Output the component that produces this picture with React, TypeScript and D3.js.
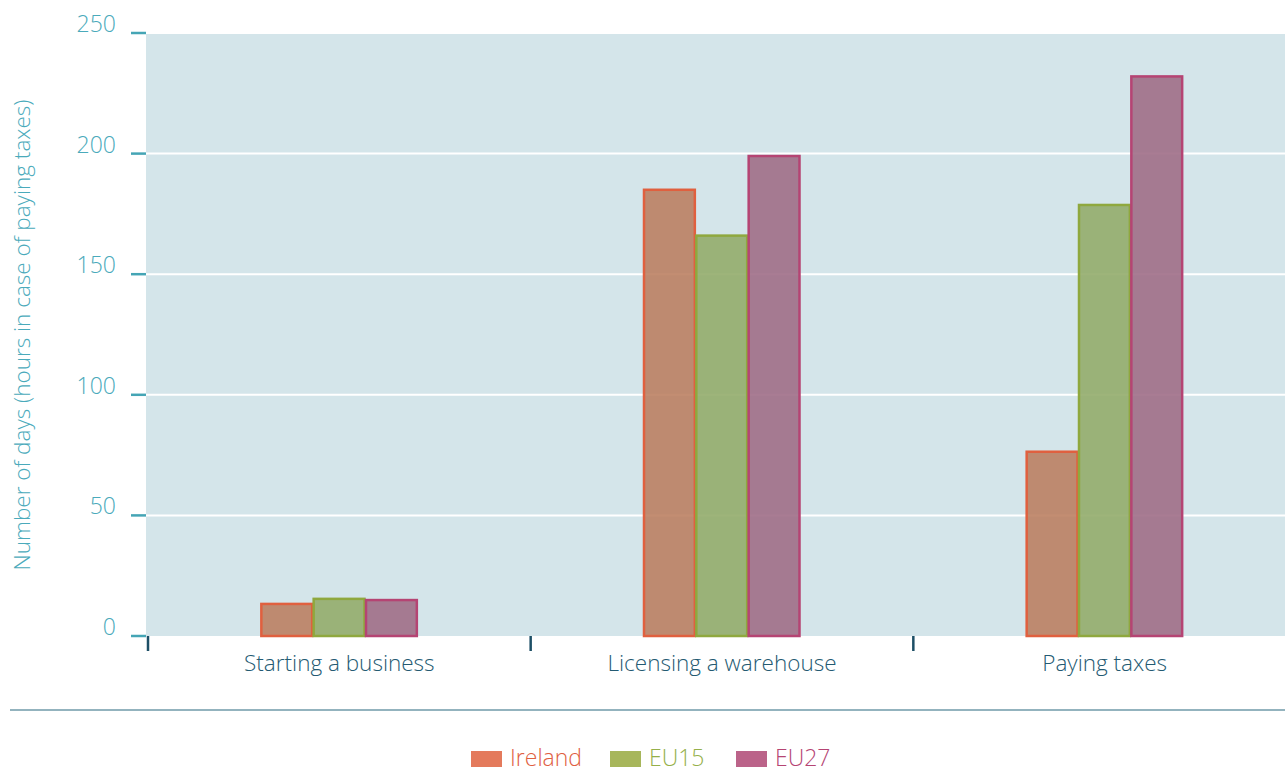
import React from "react";
import * as d3 from "d3";

const categories = ["Starting a business", "Licensing a warehouse", "Paying taxes"];
const seriesNames = ["Ireland", "EU15", "EU27"];
const irelandValues = [13.3, 185, 76.4];
const eu15Values = [15.4, 166, 178.7];
const eu27Values = [14.9, 199, 232];
const yTicks = [0, 50, 100, 150, 200, 250];

const strokeColors = ["#e0603f", "#8fa83e", "#b54473"];
const fillColors = ["rgba(187,125,95,0.88)", "rgba(148,172,108,0.9)", "rgba(160,110,135,0.9)"];
const legendColors = ["#e47a5c", "#a7b65b", "#bb6389"];
const legendText = ["#e0603f", "#95b04a", "#b54473"];

const W = 1285;
const H = 767;
const FONT = "'Open Sans', 'Noto Sans', sans-serif";

export default function App() {
  const values = [irelandValues, eu15Values, eu27Values];
  const y = d3.scaleLinear().domain([0, 250]).range([636, 33]);
  const x0 = d3.scaleBand().domain(categories).range([148, 1296]).paddingInner(0).paddingOuter(0);
  const x1 = d3.scaleBand().domain(seriesNames).range([0, 157]);
  const groupOffset = (x0.bandwidth() - 157) / 2;

  return (
    <svg width={W} height={H} style={{ position: "absolute", left: 0, top: 0 }}>
      <rect x={146} y={33} width={1150} height={603} fill="#d4e5ea" />
      {yTicks.filter((t) => t > 0).map((t) => (
        <line key={"g" + t} x1={146} x2={1296} y1={y(t)} y2={y(t)} stroke="#ffffff" strokeWidth={2} />
      ))}
      {categories.map((c, ci) =>
        seriesNames.map((s, si) => {
          const v = values[si][ci];
          const bx = (x0(c) as number) + groupOffset + (x1(s) as number);
          return (
            <rect
              key={c + s}
              x={bx + 0.5}
              y={y(v)}
              width={x1.bandwidth() - 1.5}
              height={636 - y(v)}
              fill={fillColors[si]}
              stroke={strokeColors[si]}
              strokeWidth={2.5}
            />
          );
        })
      )}
      {yTicks.map((t) => (
        <g key={"t" + t}>
          <line x1={131} x2={146} y1={y(t)} y2={y(t)} stroke="#45a5b5" strokeWidth={2.5} />
          <text x={116} y={y(t) - 1} textAnchor="end" fontFamily={FONT} fontWeight={300} fontSize={23} fill="#4aaabb">
            {t}
          </text>
        </g>
      ))}
      {[0, 1, 2].map((i) => {
        const xx = 148 + i * x0.step();
        return <line key={"xt" + i} x1={xx} x2={xx} y1={636} y2={651} stroke="#1d4f66" strokeWidth={2.5} />;
      })}
      {categories.map((c) => (
        <text
          key={"xl" + c}
          x={(x0(c) as number) + x0.bandwidth() / 2}
          y={671}
          textAnchor="middle"
          fontFamily={FONT}
          fontWeight={300}
          fontSize={22.5}
          fill="#245a72"
        >
          {c}
        </text>
      ))}
      <text
        transform={`translate(30,335) rotate(-90)`}
        textAnchor="middle"
        fontFamily={FONT}
        fontWeight={300}
        fontSize={22.5}
        fill="#4aaabb"
      >
        Number of days (hours in case of paying taxes)
      </text>
      <line x1={10} x2={1285} y1={710} y2={710} stroke="#6f9aa8" strokeWidth={1.5} />
      {seriesNames.map((s, i) => {
        const lx = [471, 610, 736][i];
        return (
          <g key={"lg" + s}>
            <rect x={lx} y={751} width={31} height={16} fill={legendColors[i]} />
            <text x={lx + 39} y={766} fontFamily={FONT} fontWeight={300} fontSize={23} fill={legendText[i]}>
              {s}
            </text>
          </g>
        );
      })}
    </svg>
  );
}
